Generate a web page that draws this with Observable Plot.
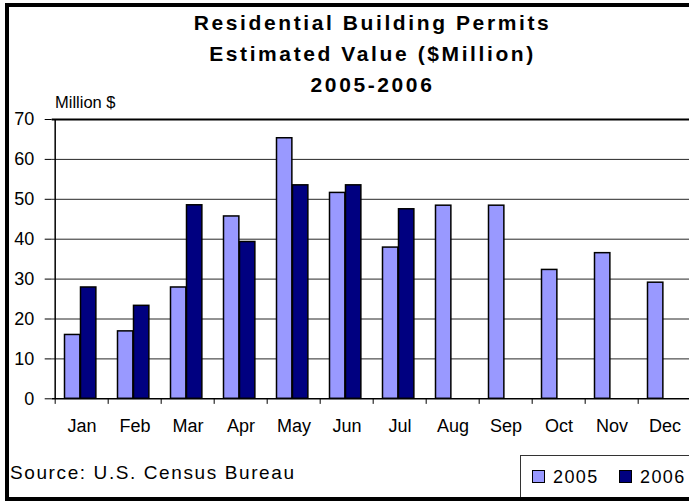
<!DOCTYPE html>
<html>
<head>
<meta charset="utf-8">
<script src="https://cdn.jsdelivr.net/npm/d3@7"></script>
<script src="https://cdn.jsdelivr.net/npm/@observablehq/plot@0.6"></script>
<style>
  body { margin: 0; background: #fff; }
  #wrap { position: relative; width: 689px; height: 501px; overflow: hidden; background: #fff;
          font-family: "Liberation Sans", Arial, sans-serif; color: #000; }
  #chart { position: absolute; left: 0; top: 0; width: 697px; }
  #chart svg { max-width: none !important; }
  #frame { position: absolute; left: 5px; top: 3px; width: 760px; height: 498px;
           border: 4px solid #000; box-sizing: border-box; pointer-events: none; }
  .title { position: absolute; left: 0; width: 745px; text-align: center; font-weight: bold;
           font-size: 21px; line-height: 21px; letter-spacing: 2.6px; white-space: nowrap; }
  #unit { position: absolute; left: 55px; top: 94px; font-size: 16.5px; line-height: 16px; white-space: nowrap; }
  #source { position: absolute; left: 10px; top: 463px; font-size: 19px; line-height: 19px;
            letter-spacing: 1.6px; white-space: nowrap; }
  #legend { position: absolute; left: 520px; top: 455px; width: 200px; height: 60px;
            border: 1px solid #333; box-sizing: border-box; }
  .sw { position: absolute; width: 13px; height: 13px; border: 1px solid #000; box-sizing: border-box; }
  .lt { position: absolute; font-size: 18px; line-height: 18px; letter-spacing: 1.4px; white-space: nowrap; }
</style>
</head>
<body>
<div id="wrap">
  <div id="chart"></div>
  <div class="title" id="t1" style="top:12px"></div>
  <div class="title" id="t2" style="top:43px"></div>
  <div class="title" id="t3" style="top:74px"></div>
  <div id="unit"></div>
  <div id="source"></div>
  <div id="legend"></div>
  <div id="frame"></div>
</div>
<script>
const months = ["Jan","Feb","Mar","Apr","May","Jun","Jul","Aug","Sep","Oct","Nov","Dec"];
const values2005 = [16.0, 16.9, 27.9, 45.7, 65.3, 51.6, 37.9, 48.4, 48.4, 32.3, 36.5, 29.1];
const values2006 = [27.9, 23.3, 48.5, 39.3, 53.5, 53.5, 47.5];
const years = ["2005", "2006"];
const colors = ["#9999FF", "#000080"];
const yTicks = [0, 10, 20, 30, 40, 50, 60, 70];
const titleLines = ["Residential Building Permits", "Estimated Value ($Million)", "2005-2006"];
const unitLabel = "Million $";
const sourceText = "Source: U.S. Census Bureau";

const rows2005 = values2005.map((v, i) => ({month: months[i], value: v, year: years[0]}));
const rows2006 = values2006.map((v, i) => ({month: months[i], value: v, year: years[1]}));

const W = 697, H = 445;
const xRange = [51.7, 695.3];
const yRange = [398.3, 119];
const bw = (xRange[1] - xRange[0]) / months.length;

const chart = Plot.plot({
  width: W, height: H,
  marginLeft: xRange[0], marginRight: W - xRange[1],
  marginTop: yRange[1], marginBottom: H - yRange[0],
  style: {background: "transparent", fontFamily: "Liberation Sans, Arial, sans-serif", fontSize: "18px", color: "#000", maxWidth: "none"},
  x: {domain: months, range: xRange, padding: 0},
  y: {domain: [0, 70], range: yRange},
  marks: [
    Plot.gridY(yTicks.slice(1, -1), {stroke: "#000", strokeOpacity: 0.85, strokeWidth: 1}),
    Plot.ruleY([70], {stroke: "#000", strokeWidth: 2}),
    Plot.barY(rows2005, {x: "month", y: "value", fill: colors[0], stroke: "#000", strokeWidth: 1.5,
      insetLeft: 9.5, insetRight: bw - 25.5}),
    Plot.barY(rows2006, {x: "month", y: "value", fill: colors[1], stroke: "#000", strokeWidth: 1.5,
      insetLeft: 25.5, insetRight: bw - 41.5}),
    Plot.ruleY([0], {stroke: "#000", strokeWidth: 1.5}),
    Plot.ruleX([months[0]], {x: d => d, y1: 0, y2: 70, dx: -bw / 2, stroke: "#000", strokeWidth: 1.5}),
    Plot.ruleX(months, {x: d => d, y1: 0, y2: -1.4, dx: -bw / 2, stroke: "#000", strokeWidth: 1}),
    Plot.axisY(yTicks, {tickSize: 7, tickPadding: 11, fontSize: 18, label: null, stroke: "#000", style: {letterSpacing: "0.8px"}}),
    Plot.axisX({tickSize: 0, tickPadding: 20, fontSize: 18, label: null, dx: 0, style: {letterSpacing: "2px"}})
  ]
});
document.getElementById("chart").appendChild(chart);

titleLines.forEach((t, i) => { document.getElementById("t" + (i + 1)).textContent = t; });
document.getElementById("unit").textContent = unitLabel;
document.getElementById("source").textContent = sourceText;

const legend = document.getElementById("legend");
const swX = [11, 98];
years.forEach((y, i) => {
  const s = document.createElement("div");
  s.className = "sw";
  s.style.left = swX[i] + "px";
  s.style.top = "14px";
  s.style.background = colors[i];
  legend.appendChild(s);
  const t = document.createElement("div");
  t.className = "lt";
  t.style.left = (swX[i] + 21) + "px";
  t.style.top = "12px";
  t.textContent = y;
  legend.appendChild(t);
});
</script>
</body>
</html>
